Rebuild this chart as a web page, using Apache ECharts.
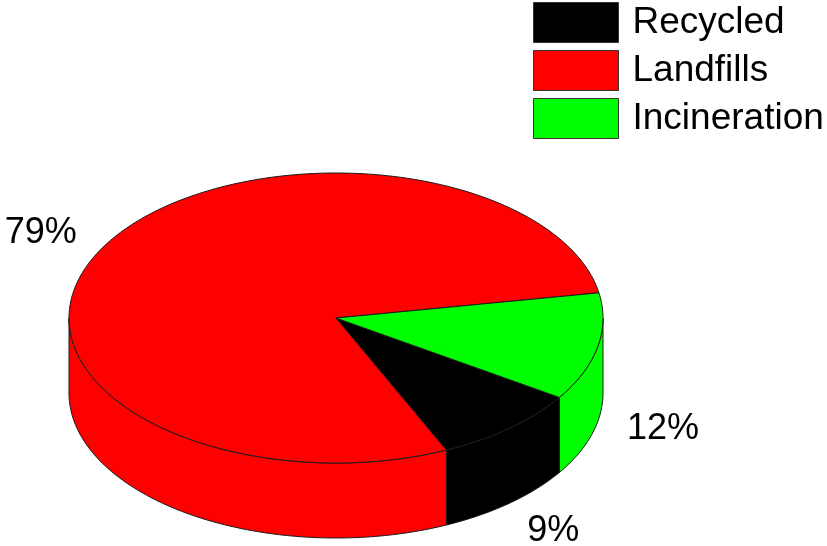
<!DOCTYPE html>
<html>
<head>
<meta charset="utf-8">
<script src="https://cdn.jsdelivr.net/npm/echarts@6/dist/echarts.min.js"></script>
<style>
  html, body { margin: 0; padding: 0; background: #fff; }
  #main { width: 827px; height: 546px; }
</style>
</head>
<body>
<div id="main"></div>
<script>
var categories = ['Recycled', 'Landfills', 'Incineration'];
var shares = [9, 79, 12];
var sliceColors = ['#000000', '#ff0000', '#00ff00'];
// slices go clockwise from the start angle in this order
var clockwiseOrder = ['Incineration', 'Recycled', 'Landfills'];
var startAngle = 10;

// pie geometry (pixels)
var CX = 336, CY = 318, RX = 267, RY = 145, DEPTH = 75;

var chartDom = document.getElementById('main');
var box = echarts.init(chartDom);

function pt(deg, drop) {
  var r = deg * Math.PI / 180;
  return [CX + RX * Math.cos(r), CY - RY * Math.sin(r) + (drop || 0)];
}

function arc(a0, a1, drop) {
  var n = Math.max(2, Math.ceil(Math.abs(a0 - a1)));
  var out = [];
  for (var i = 0; i <= n; i++) out.push(pt(a0 + (a1 - a0) * i / n, drop));
  return out;
}

function renderSlice(params, api) {
  var name = categories[params.seriesIndex];
  var value = api.value(0);
  var total = shares.reduce(function (a, b) { return a + b; }, 0);
  var before = 0;
  for (var i = 0; i < clockwiseOrder.length; i++) {
    if (clockwiseOrder[i] === name) break;
    before += shares[categories.indexOf(clockwiseOrder[i])];
  }
  var a0 = startAngle - before / total * 360;
  var a1 = a0 - value / total * 360;
  var color = api.visual('color');
  var children = [];

  // front side wall (angles between -180 and 0, mod 360)
  [-1, 0, 1].forEach(function (k) {
    var lo = Math.max(a1, -180 + 360 * k);
    var hi = Math.min(a0, 360 * k);
    if (hi > lo) {
      children.push({
        type: 'polygon',
        shape: { points: arc(hi, lo, 0).concat(arc(lo, hi, DEPTH)) },
        style: { fill: color, stroke: '#1a1a1a', lineWidth: 1 }
      });
    }
  });

  // top face
  children.push({
    type: 'polygon',
    shape: { points: [[CX, CY]].concat(arc(a0, a1, 0)) },
    style: { fill: color, stroke: '#1a1a1a', lineWidth: 1 }
  });

  // percentage label
  var mid = (a0 + a1) / 2 * Math.PI / 180;
  var s = Math.sin(mid);
  children.push({
    type: 'text',
    x: CX + RX * Math.cos(mid) * 1.25,
    y: CY - RY * s * 1.25 + (s < 0 ? DEPTH : 0),
    z2: 10,
    style: {
      text: value + '%',
      fontSize: 36,
      fontFamily: 'Liberation Sans',
      fill: '#000',
      align: 'center',
      verticalAlign: 'middle'
    }
  });

  return { type: 'group', children: children };
}

var option = {
  animation: false,
  legend: {
    data: categories,
    orient: 'vertical',
    left: 533,
    top: 2,
    padding: 0,
    itemWidth: 85,
    itemHeight: 40,
    itemGap: 7,
    icon: 'rect',
    selectedMode: false,
    itemStyle: { borderColor: '#333', borderWidth: 1 },
    textStyle: {
      fontSize: 37,
      fontFamily: 'Liberation Sans',
      color: '#000',
      padding: [0, 0, 0, 9]
    }
  },
  series: categories.map(function (name, i) {
    return {
      type: 'custom',
      name: name,
      coordinateSystem: 'none',
      silent: true,
      itemStyle: { color: sliceColors[i] },
      renderItem: renderSlice,
      data: [[shares[i]]]
    };
  })
};

box.setOption(option);
</script>
</body>
</html>
